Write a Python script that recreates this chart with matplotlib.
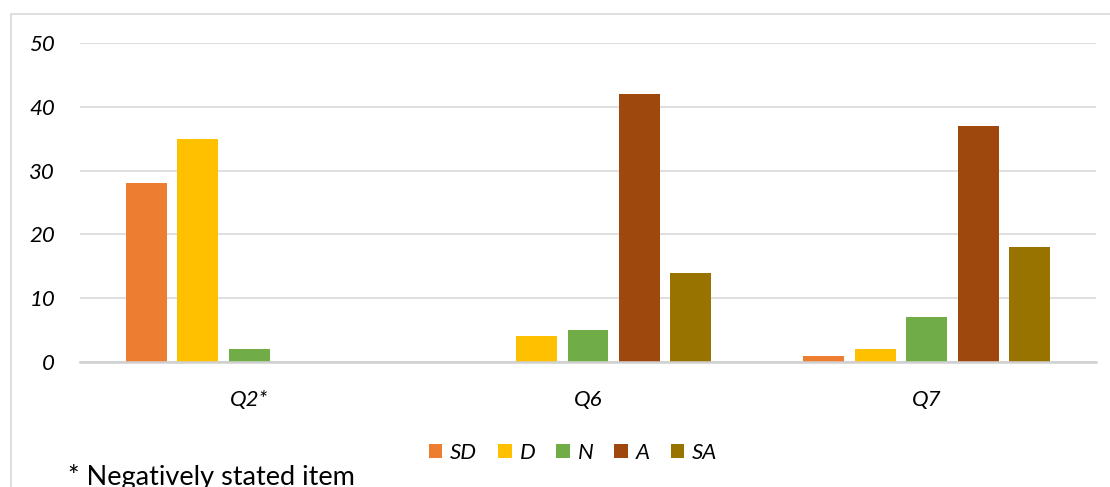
import matplotlib
matplotlib.use("Agg")
import matplotlib.pyplot as plt
import numpy as np
from matplotlib.patches import Rectangle

# Survey responses per item
CATEGORIES = ["Q2*", "Q6", "Q7"]
SERIES = ["SD", "D", "N", "A", "SA"]
SD = [28, 0, 1]
D = [35, 4, 2]
N = [2, 5, 7]
A = [0, 42, 37]
SA = [0, 14, 18]

COLORS = ["#ED7D31", "#FFC000", "#70AD47", "#9E480E", "#997300"]

plt.rcParams["font.family"] = ["Lato", "DejaVu Sans"]

fig = plt.figure(figsize=(11.1, 4.87), dpi=100)
ax = fig.add_axes([80 / 1110, 1 - 362 / 487, 1016 / 1110, 319 / 487])

# chart frame
fig.patches.append(Rectangle((11 / 1110, -0.1), 1.2, 1 - 14 / 487 + 0.1,
                             transform=fig.transFigure, fill=False,
                             edgecolor="#d9d9d9", linewidth=1.2, zorder=0))

x = np.arange(len(CATEGORIES))
width = 0.121
pitch = 0.152
for i, (name, vals) in enumerate(zip(SERIES, [SD, D, N, A, SA])):
    ax.bar(x + (i - 2) * pitch, vals, width, color=COLORS[i], label=name, zorder=3)

ax.set_xlim(-0.5, 2.5)
ax.set_ylim(0, 50)
ax.set_yticks(range(0, 51, 10))
ax.set_xticks(x)
ax.set_xticklabels(CATEGORIES)
ax.grid(axis="y", color="#d9d9d9", linewidth=1.2, zorder=0)
for s in ["top", "right", "left"]:
    ax.spines[s].set_visible(False)
ax.spines["bottom"].set_color("#d0d0d0")
ax.spines["bottom"].set_linewidth(1.8)
ax.spines["bottom"].set_zorder(4)
ax.tick_params(axis="y", length=0, pad=18, labelsize=16)
ax.tick_params(axis="x", length=0, pad=20, labelsize=16)
for lbl in ax.get_xticklabels() + ax.get_yticklabels():
    lbl.set_fontstyle("italic")

leg = fig.legend(loc="center", bbox_to_anchor=(573 / 1110, 1 - 453 / 487), ncol=5,
                 frameon=False, handlelength=0.6, handleheight=0.6,
                 handletextpad=0.35, columnspacing=0.95,
                 prop={"style": "italic", "size": 16})

fig.text(68 / 1110, 1 - 477 / 487, "* Negatively stated item", fontsize=19.5,
         va="center", ha="left")

fig.savefig("out.png", dpi=100)
